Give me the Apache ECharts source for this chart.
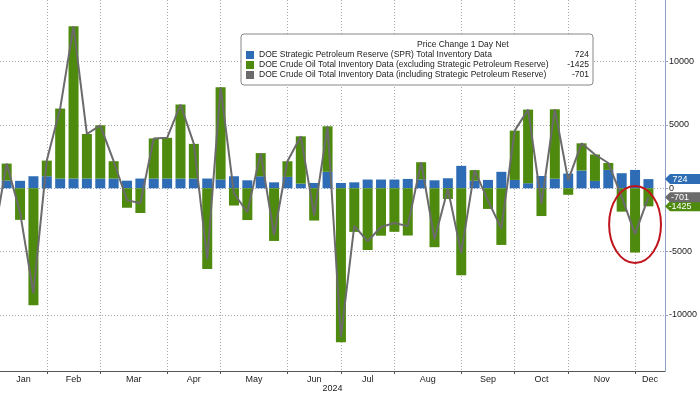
<!DOCTYPE html>
<html><head><meta charset="utf-8">
<script src="https://cdn.jsdelivr.net/npm/echarts@6/dist/echarts.min.js"></script>
<style>html,body{margin:0;padding:0;background:#fff}#c{width:700px;height:394px}</style>
</head><body><div id="c"></div>
<script>
// Week ending dates (EIA weekly data)
const weeks = ['2023-12-29',
 '2024-01-05','2024-01-12','2024-01-19','2024-01-26',
 '2024-02-02','2024-02-09','2024-02-16','2024-02-23',
 '2024-03-01','2024-03-08','2024-03-15','2024-03-22','2024-03-29',
 '2024-04-05','2024-04-12','2024-04-19','2024-04-26',
 '2024-05-03','2024-05-10','2024-05-17','2024-05-24','2024-05-31',
 '2024-06-07','2024-06-14','2024-06-21','2024-06-28',
 '2024-07-05','2024-07-12','2024-07-19','2024-07-26',
 '2024-08-02','2024-08-09','2024-08-16','2024-08-23','2024-08-30',
 '2024-09-06','2024-09-13','2024-09-20','2024-09-27',
 '2024-10-04','2024-10-11','2024-10-18','2024-10-25',
 '2024-11-01','2024-11-08','2024-11-15','2024-11-22','2024-11-29',
 '2024-12-06'];
// DOE Strategic Petroleum Reserve weekly change (thousand barrels)
const sprChange = [null,
 610, 590, 950, 950,
 770, 770, 770, 770,
 770, 600, 770, 770, 770,
 770, 770, 770, 700,
 950, 630, 950, 470, 900,
 370, 420, 1300, 420,
 470, 690, 690, 690,
 740, 700, 630, 790, 1770,
 600, 660, 1300, 660,
 400, 970, 760, 1160,
 1400, 580, 1450, 1190, 1450,
 724];
// DOE crude oil inventory change excluding SPR
const crudeExSpr = [null,
 1338, -2492, -9233, 1234,
 5521, 12018, 3514, 4199,
 1367, -1536, -1952, 3165, 3210,
 5841, 2735, -6368, 7265,
 -1362, -2508, 1825, -4156, 1233,
 3730, -2547, 3591, -12157,
 -3443, -4870, -3741, -3436,
 -3728, 1357, -4649, -846, -6873,
 833, -1630, -4471, 3889,
 5810, -2191, 5474, -515,
 2149, 2089, 545, -1844, -5073,
 -1425];
// DOE crude oil inventory change including SPR
const crudeInclSpr = [-4100,
 1948, -1902, -8283, 2184,
 6291, 12788, 4284, 4969,
 2137, -936, -1182, 3935, 3980,
 6611, 3505, -5598, 7965,
 -412, -1878, 2775, -3686, 2133,
 4100, -2127, 4891, -11737,
 -2973, -4180, -3051, -2746,
 -2988, 2057, -4019, -56, -5103,
 1433, -970, -3171, 4549,
 6210, -1221, 6234, 645,
 3549, 2669, 1995, -654, -3623,
 -701];
const yTickValues = [-10000, -5000, 0, 5000, 10000];
const monthNames = ['Jan','Feb','Mar','Apr','May','Jun','Jul','Aug','Sep','Oct','Nov','Dec'];
const seriesNames = [
 'DOE Strategic Petroleum Reserve (SPR) Total Inventory Data',
 'DOE Crude Oil Total Inventory Data (excluding Strategic Petroleum Reserve)',
 'DOE Crude Oil Total Inventory Data (including Strategic Petroleum Reserve)'];
const legendTitle = 'Price Change 1 Day Net';

const FONT = 'Liberation Sans';
const C_BLUE = '#2e6db5', C_GREEN = '#4e8a0e', C_GRAY = '#6b6b6b';
const X_MIN = 0.5, X_MAX = 50.24;

// month boundary ticks: last week of each month
const monthOf = d => parseInt(d.slice(5, 7), 10) - 1;
const tickIdx = [];
for (let i = 0; i < weeks.length - 1; i++) {
  if (monthOf(weeks[i]) !== monthOf(weeks[i + 1]) && i > X_MIN) tickIdx.push(i);
}
const bounds = [X_MIN].concat(tickIdx, [X_MAX]);
const labelPos = [], labelMap = {};
for (let k = 0; k < bounds.length - 1; k++) {
  const m = (bounds[k] + bounds[k + 1]) / 2;
  labelPos.push(m);
  labelMap[m.toFixed(3)] = monthNames[monthOf(weeks[Math.min(weeks.length - 1, Math.round(m))])];
}

const last = a => a[a.length - 1];
const lastVals = {};
lastVals[seriesNames[0]] = last(sprChange);
lastVals[seriesNames[1]] = last(crudeExSpr);
lastVals[seriesNames[2]] = last(crudeInclSpr);

function tag(val, color) {
  return {
    symbol: 'path://M0,5L5,0L36,0L36,10L5,10Z',
    symbolSize: [36, 10], symbolKeepAspect: false, symbolOffset: [18, 0],
    silent: true, itemStyle: {color: color},
    label: {show: true, color: '#fff', fontSize: 9, fontFamily: FONT, formatter: String(val), offset: [-3, 0]},
    data: [{coord: [X_MAX, val]}]
  };
}

const chart = echarts.init(document.getElementById('c'), null, {renderer: 'canvas'});
chart.setOption({
  animation: false,
  backgroundColor: '#fff',
  grid: {left: 0, right: 35, top: 0, bottom: 23, containLabel: false, outerBoundsMode: 'none'},
  xAxis: {
    type: 'value', min: X_MIN, max: X_MAX,
    name: '2024', nameLocation: 'middle', nameGap: 13, nameMoveOverlap: false,
    nameTextStyle: {fontSize: 9, fontFamily: FONT, color: '#222'},
    axisLine: {show: true, onZero: false, lineStyle: {color: '#555', width: 1}},
    axisTick: {show: true, customValues: tickIdx, length: 3, lineStyle: {color: '#555'}},
    axisLabel: {customValues: labelPos, fontSize: 9, fontFamily: FONT, color: '#222', margin: 4,
      formatter: v => labelMap[Number(v).toFixed(3)] || ''},
    splitLine: {show: true, lineStyle: {color: '#a8a8a8', type: [1, 2], width: 1}}
  },
  yAxis: {
    type: 'value', position: 'right', min: -14420, max: 14860,
    axisLine: {show: true, lineStyle: {color: '#8da2c4', width: 1}},
    axisTick: {show: true, customValues: yTickValues, length: 3, lineStyle: {color: '#8da2c4'}},
    axisLabel: {customValues: yTickValues, fontSize: 9, fontFamily: FONT, color: '#222', margin: 4,
      formatter: v => String(v)},
    splitLine: {show: true, lineStyle: {color: '#a8a8a8', type: [1, 2], width: 1}}
  },
  legend: {
    orient: 'vertical', left: 241, top: 34, padding: [16, 4, 5, 5],
    itemWidth: 8, itemHeight: 8, itemGap: 0, icon: 'rect', selectedMode: false,
    borderColor: '#888', borderWidth: 1, borderRadius: 3, backgroundColor: '#fff',
    data: seriesNames,
    textStyle: {fontSize: 8.5, fontFamily: FONT, color: '#222', lineHeight: 10,
      rich: {n: {width: 304, fontSize: 8.5, fontFamily: FONT, lineHeight: 10},
             v: {width: 26, align: 'right', fontSize: 8.5, fontFamily: FONT, lineHeight: 10}}},
    formatter: name => '{n|' + name + '}{v|' + lastVals[name] + '}'
  },
  series: [
    {name: seriesNames[0], type: 'bar', stack: 'inv', barWidth: 10, z: 2,
     encode: {x: 1, y: 0},
     itemStyle: {color: C_BLUE}, data: sprChange.map((v, i) => [v, i]), markPoint: tag(last(sprChange), C_BLUE)},
    {name: seriesNames[1], type: 'bar', stack: 'inv', barWidth: 10, z: 2,
     encode: {x: 1, y: 0},
     itemStyle: {color: C_GREEN}, data: crudeExSpr.map((v, i) => [v, i]), markPoint: tag(last(crudeExSpr), C_GREEN)},
    {name: seriesNames[2], type: 'line', symbol: 'none', z: 5, color: C_GRAY,
     lineStyle: {color: C_GRAY, width: 2}, itemStyle: {color: C_GRAY},
     data: crudeInclSpr.map((v, i) => [i, v]), markPoint: tag(last(crudeInclSpr), C_GRAY)}
  ]
});

// annotation ellipse around the latest weeks, placed via the chart's own scales
const p = (x, y) => chart.convertToPixel({gridIndex: 0}, [x, y]);
const iC = weeks.indexOf('2024-11-29');
const c0 = p(iC, -2860), cR = p(iC + 1.94, -2860), cT = p(iC, 180);
chart.setOption({
  graphic: [
    {type: 'text', id: 'legendTitle', left: 241 + 176, top: 40, z: 100,
     style: {text: legendTitle, fontSize: 8.5, fontFamily: FONT, fill: '#222', textAlign: 'center'}},
    {type: 'ellipse', id: 'circle', z: 100, silent: true,
     shape: {cx: c0[0], cy: c0[1], rx: cR[0] - c0[0], ry: c0[1] - cT[1]},
     style: {fill: 'none', stroke: '#c0141c', lineWidth: 2}}
  ]
});
</script></body></html>
